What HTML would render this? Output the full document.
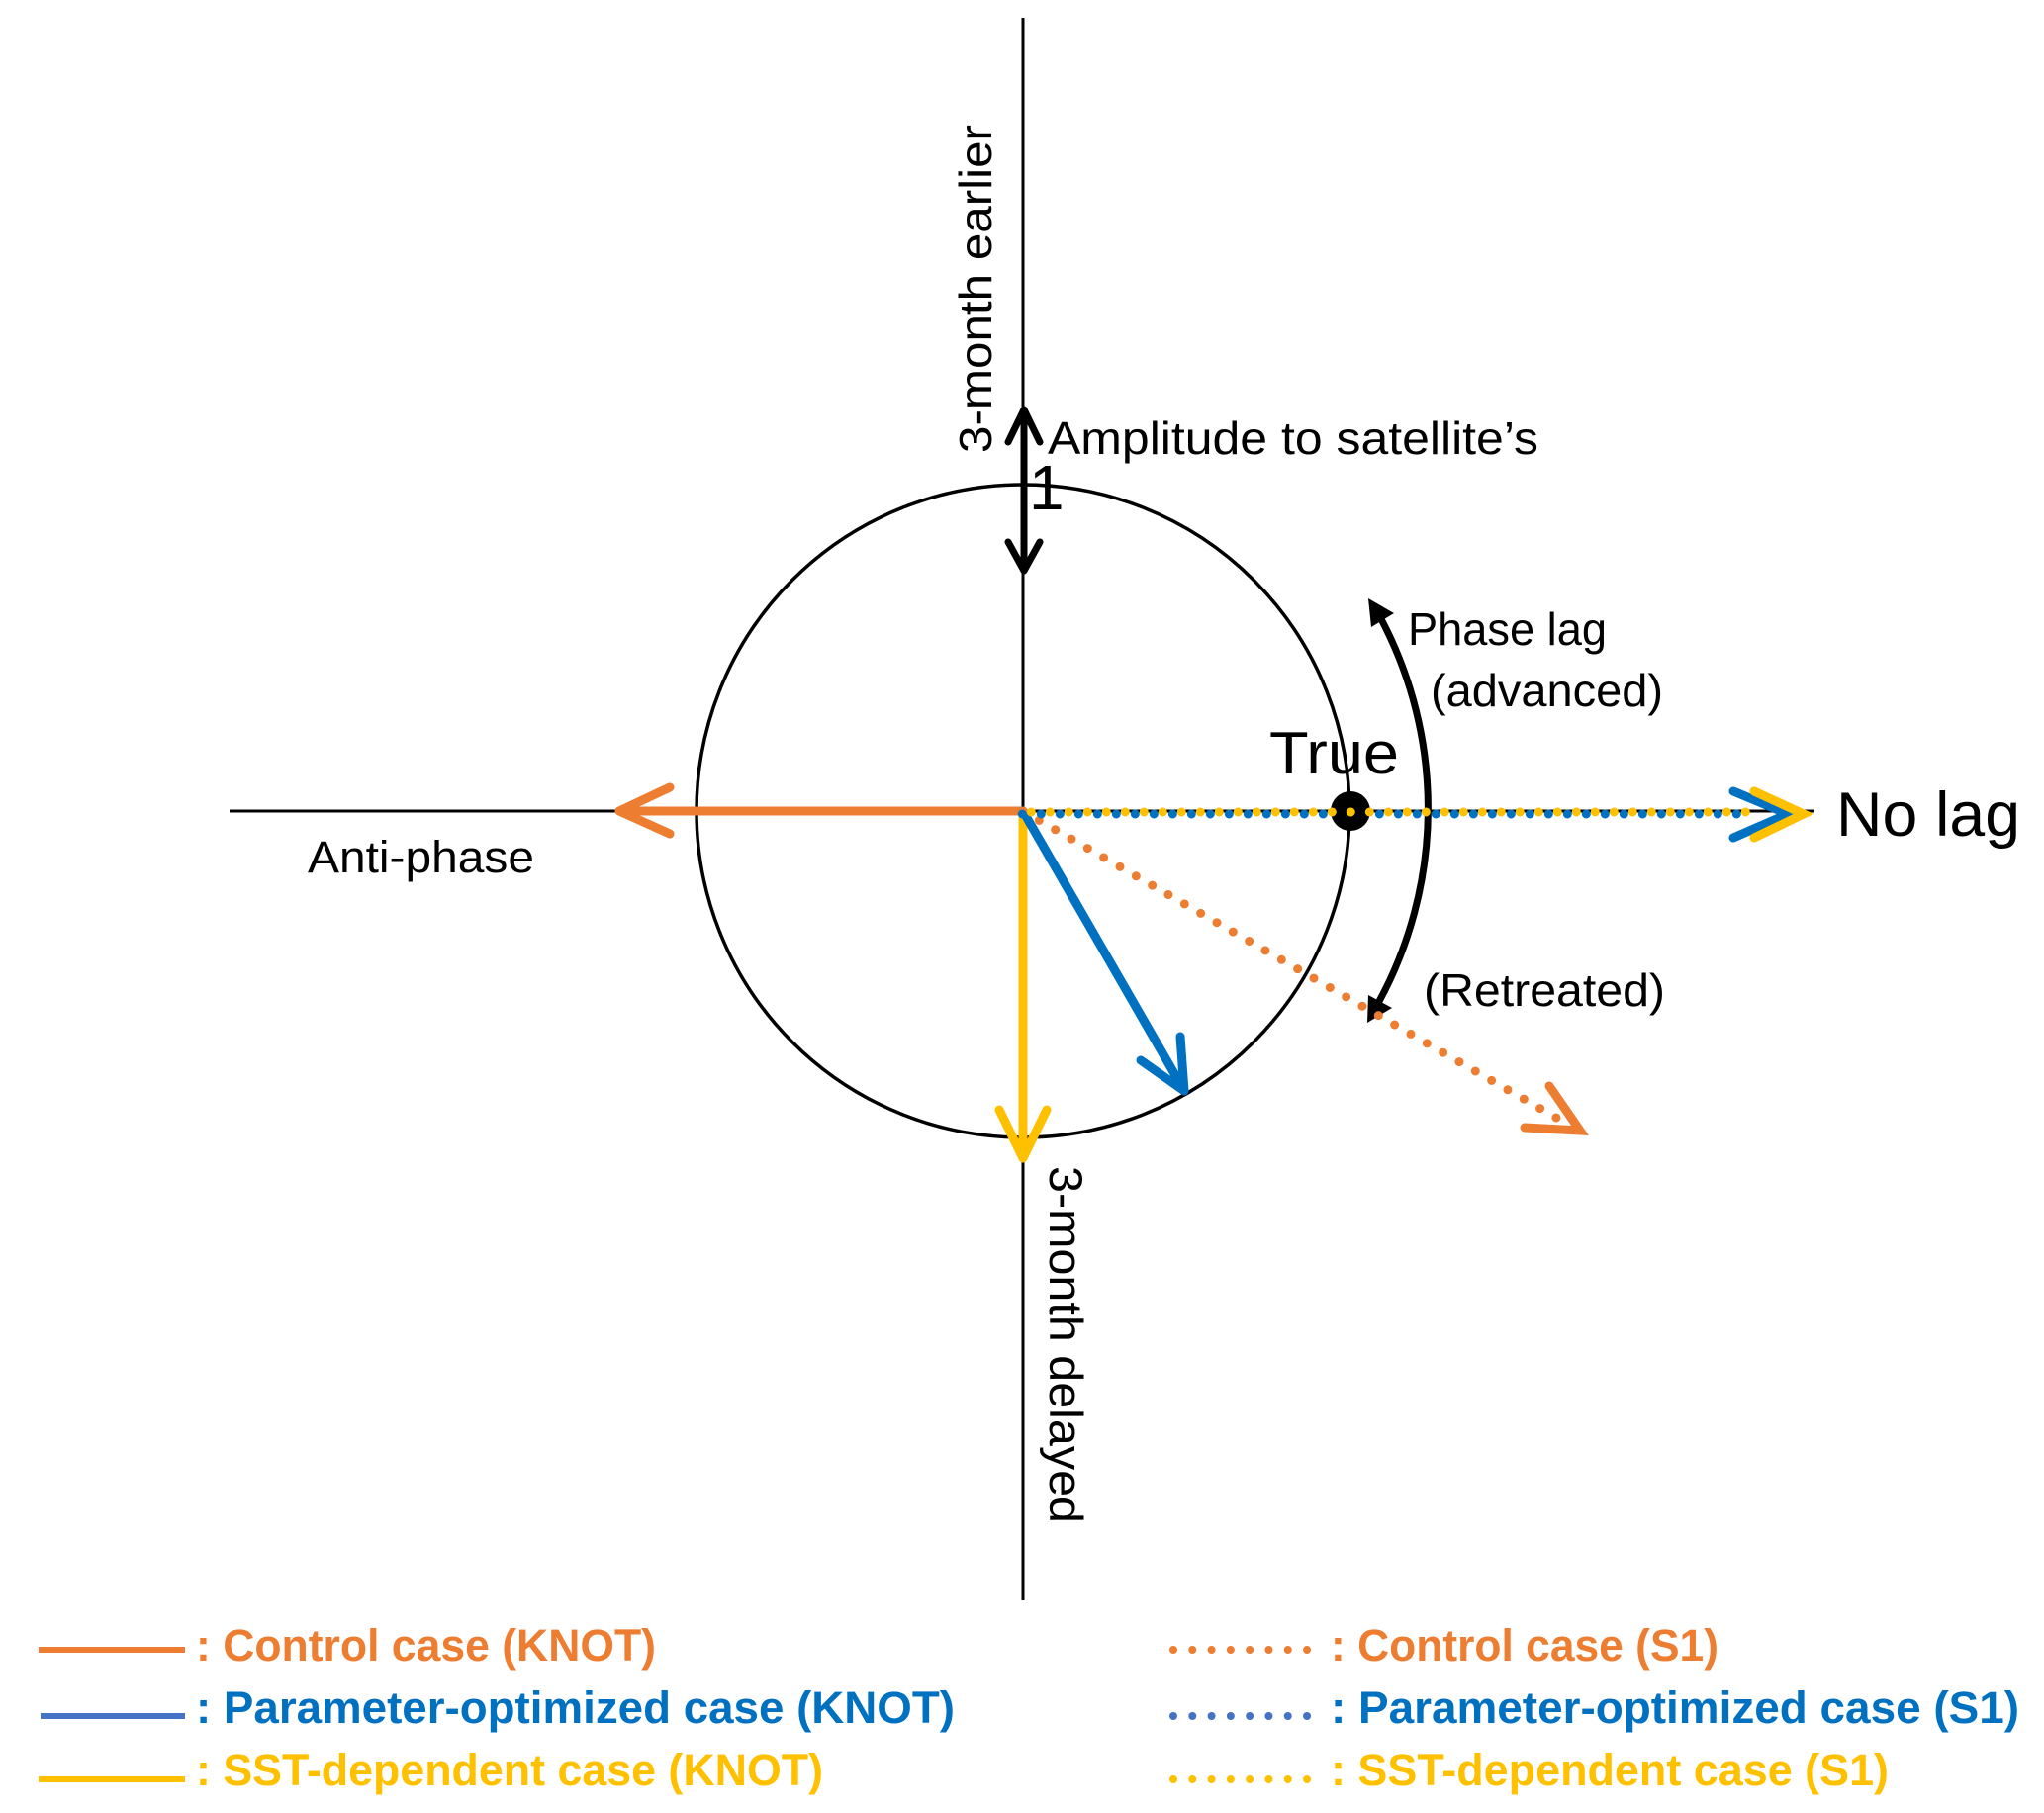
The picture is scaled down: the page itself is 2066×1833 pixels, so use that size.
<!DOCTYPE html>
<html>
<head>
<meta charset="utf-8">
<style>
  html,body{margin:0;padding:0;background:#fff;}
  svg{display:block;}
  text{font-family:"Liberation Sans", Arial, sans-serif;}
</style>
</head>
<body>
<svg width="2066" height="1833" viewBox="0 0 2066 1833" xmlns="http://www.w3.org/2000/svg">
  <rect x="0" y="0" width="2066" height="1833" fill="#ffffff"/>

  <!-- axes -->
  <line x1="1034" y1="18" x2="1034" y2="1618" stroke="#000" stroke-width="3"/>
  <line x1="232" y1="820" x2="1834" y2="820" stroke="#000" stroke-width="3"/>

  <!-- unit circle -->
  <circle cx="1034" cy="820" r="330" fill="none" stroke="#000" stroke-width="3.5"/>

  <!-- amplitude double arrow -->
  <g stroke="#000" stroke-width="7" fill="none" stroke-linecap="round" stroke-linejoin="round">
    <line x1="1035" y1="415" x2="1035" y2="576"/>
    <polyline points="1019,447 1035,414 1051,447"/>
    <polyline points="1019,548 1035,577 1051,548"/>
  </g>

  <!-- phase lag arc -->
  <path d="M1395 624 A410 410 0 0 1 1392 1016" fill="none" stroke="#000" stroke-width="7"/>
  <polygon points="1383,605 1409,620 1386,634" fill="#000"/>
  <polygon points="1382,1034 1383,1006 1407,1019" fill="#000"/>

  <!-- solid KNOT arrows -->
  <g fill="none" stroke-width="9" stroke-linecap="round" stroke-linejoin="round">
    <g stroke="#ED7D31">
      <line x1="1034" y1="820" x2="627" y2="820"/>
      <polyline points="677,796 626,820 677,843"/>
    </g>
    <g stroke="#FFC000">
      <line x1="1034" y1="820" x2="1034" y2="1170"/>
      <polyline points="1010,1122 1034,1171 1058,1122"/>
    </g>
    <g stroke="#0070C0">
      <line x1="1034" y1="820" x2="1196" y2="1101"/>
      <polyline points="1153,1072 1197,1103 1193,1048"/>
    </g>
  </g>

  <!-- orange dotted (S1) -->
  <line x1="1034" y1="820" x2="1573" y2="1130" stroke="#ED7D31" stroke-width="9" stroke-linecap="round" stroke-dasharray="0 18.84"/>
  <polyline points="1566,1098 1597,1143 1541,1140" fill="none" stroke="#ED7D31" stroke-width="9" stroke-linecap="round" stroke-linejoin="miter"/>

  <!-- blue dotted (S1) -->
  <line x1="1033.3" y1="823" x2="1774.3" y2="823" stroke="#0070C0" stroke-width="9" stroke-linecap="round" stroke-dasharray="0 19"/>

  <!-- True dot -->
  <circle cx="1365" cy="820" r="20" fill="#000"/>

  <!-- yellow dotted (S1) -->
  <line x1="1042.3" y1="821" x2="1783.3" y2="821" stroke="#FFC000" stroke-width="9" stroke-linecap="round" stroke-dasharray="0 19"/>

  <!-- chevrons at no lag -->
  <polyline points="1752,800 1807,823 1752,847" fill="none" stroke="#0070C0" stroke-width="9" stroke-linecap="round" stroke-linejoin="miter"/>
  <polyline points="1773,800 1823,823 1773,847" fill="none" stroke="#FFC000" stroke-width="9" stroke-linecap="round" stroke-linejoin="miter"/>

  <!-- labels -->
  <text x="1002" y="458" font-size="46" fill="#000" transform="rotate(-90 1002 458)" textLength="332" lengthAdjust="spacingAndGlyphs">3-month earlier</text>
  <text x="1061" y="1179" font-size="47" fill="#000" transform="rotate(90 1061 1179)" textLength="361" lengthAdjust="spacingAndGlyphs">3-month delayed</text>
  <text x="1059" y="459" font-size="46" fill="#000" textLength="496" lengthAdjust="spacingAndGlyphs">Amplitude to satellite’s</text>
  <text x="1040" y="515" font-size="64" fill="#000">1</text>
  <text x="1283" y="782" font-size="60" fill="#000" textLength="131" lengthAdjust="spacingAndGlyphs">True</text>
  <text x="1856" y="845" font-size="63" fill="#000" textLength="186" lengthAdjust="spacingAndGlyphs">No lag</text>
  <text x="1423" y="652" font-size="46" fill="#000" textLength="201" lengthAdjust="spacingAndGlyphs">Phase lag</text>
  <text x="1446" y="714" font-size="46" fill="#000" textLength="235" lengthAdjust="spacingAndGlyphs">(advanced)</text>
  <text x="1439" y="1017" font-size="46" fill="#000" textLength="244" lengthAdjust="spacingAndGlyphs">(Retreated)</text>
  <text x="311" y="882" font-size="45" fill="#000" textLength="229" lengthAdjust="spacingAndGlyphs">Anti-phase</text>

  <!-- legend left -->
  <g stroke-width="6">
    <line x1="39" y1="1668" x2="187" y2="1668" stroke="#ED7D31"/>
    <line x1="41" y1="1735" x2="187" y2="1735" stroke="#4472C4"/>
    <line x1="39" y1="1799" x2="187" y2="1799" stroke="#FFC000"/>
  </g>
  <g font-size="45" font-weight="bold">
    <text x="198" y="1679" fill="#ED7D31" textLength="465" lengthAdjust="spacingAndGlyphs">: Control case (KNOT)</text>
    <text x="198" y="1742" fill="#0070C0" textLength="767" lengthAdjust="spacingAndGlyphs">: Parameter-optimized case (KNOT)</text>
    <text x="198" y="1805" fill="#FFC000" textLength="634" lengthAdjust="spacingAndGlyphs">: SST-dependent case (KNOT)</text>
  </g>

  <!-- legend right -->
  <g stroke-width="8" stroke-linecap="round" stroke-dasharray="0 19.29">
    <line x1="1186" y1="1668" x2="1321.03" y2="1668" stroke="#ED7D31"/>
    <line x1="1186" y1="1735" x2="1321.03" y2="1735" stroke="#4472C4"/>
    <line x1="1186" y1="1799" x2="1321.03" y2="1799" stroke="#FFC000"/>
  </g>
  <g font-size="45" font-weight="bold">
    <text x="1345" y="1679" fill="#ED7D31" textLength="392" lengthAdjust="spacingAndGlyphs">: Control case (S1)</text>
    <text x="1345" y="1742" fill="#0070C0" textLength="696" lengthAdjust="spacingAndGlyphs">: Parameter-optimized case (S1)</text>
    <text x="1345" y="1805" fill="#FFC000" textLength="564" lengthAdjust="spacingAndGlyphs">: SST-dependent case (S1)</text>
  </g>
</svg>
</body>
</html>
